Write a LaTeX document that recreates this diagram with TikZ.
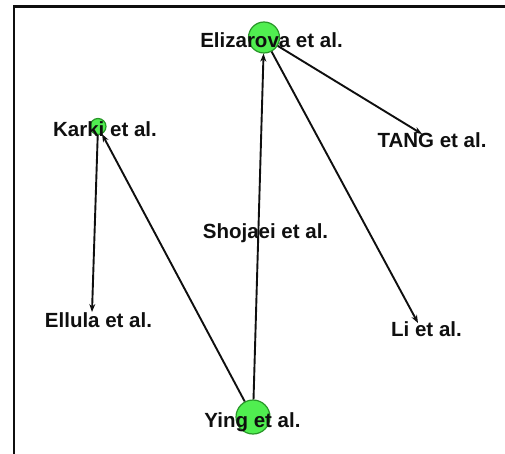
\documentclass[tikz,border=0pt]{standalone}
\usepackage{fontspec}
\setmainfont{Liberation Sans}
\usetikzlibrary{arrows.meta}
\definecolor{nodefill}{RGB}{80,238,80}
\definecolor{nodeline}{RGB}{40,150,40}
\definecolor{ink}{RGB}{15,15,15}
\begin{document}
\begin{tikzpicture}[x=1pt,y=-1pt,
  vertex/.style={circle,fill=nodefill,draw=nodeline,line width=1.2pt,inner sep=0pt},
  lbl/.style={anchor=base,inner sep=0pt,font=\fontsize{20.5}{22}\selectfont\bfseries,text=ink},
  edge/.style={draw=ink,line width=1.9pt,-{Stealth[length=8pt,width=6pt]}},
  frameline/.style={draw=ink,line width=2.4pt}]
  \useasboundingbox (0,0) rectangle (505,454);
  % frame
  \coordinate (ftr) at (505,6.5);
  \coordinate (ftl) at (14,6.5);
  \coordinate (fbl) at (14,454);
  \draw[frameline] (ftr) -- (ftl) -- (fbl);
  % weighted vertices
  \node[vertex,minimum size=31pt] (eliz) at (264,37.5) {};
  \node[vertex,minimum size=16pt] (karki) at (98,126.5) {};
  \node[vertex,minimum size=34pt] (ying) at (253,417) {};
  % edge ends for unweighted vertices
  \coordinate (tang) at (422,134);
  \coordinate (li) at (418,323);
  \coordinate (ellula) at (92,312);
  % edges
  \draw[edge] (ying) -- (karki);
  \draw[edge] (ying) -- (eliz);
  \draw[edge] (eliz) -- (tang);
  \draw[edge] (eliz) -- (li);
  \draw[edge] (karki) -- (ellula);
  % labels
  \node[lbl] (elizl) at (271.5,47.5) {Elizarova et al.};
  \node[lbl] (karkil) at (105,136.5) {Karki et al.};
  \node[lbl] (tangl) at (432,147.5) {TANG et al.};
  \node[lbl] (shojl) at (265.5,238.5) {Shojaei et al.};
  \node[lbl] (ellul) at (98.5,327.5) {Ellula et al.};
  \node[lbl] (lil) at (426.5,336.5) {Li et al.};
  \node[lbl] (yingl) at (252.5,427.5) {Ying et al.};
\end{tikzpicture}
\end{document}
